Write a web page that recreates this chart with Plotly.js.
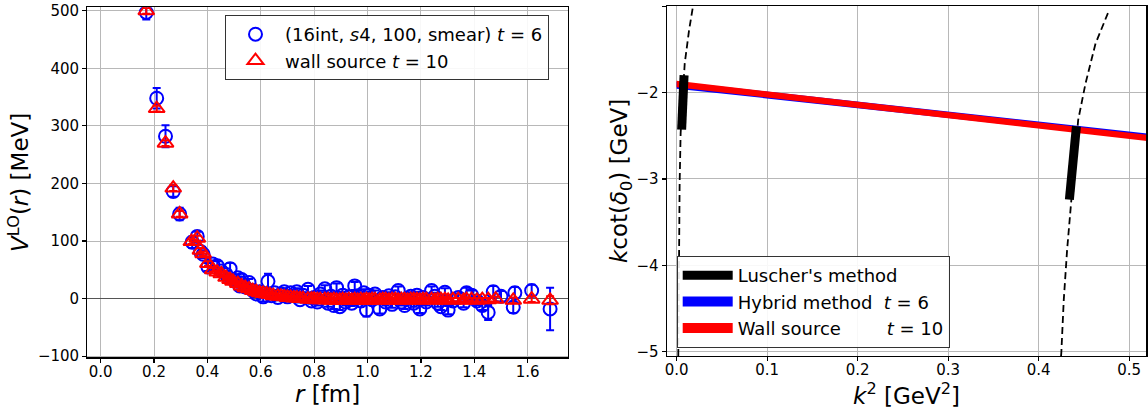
<!DOCTYPE html>
<html>
<head>
<meta charset="utf-8">
<script src="https://cdn.plot.ly/plotly-3.0.1.min.js"></script>
<style>html,body{margin:0;padding:0;background:#fff;} #chart{width:1148px;height:412px;}</style>
</head>
<body>
<div id="chart"></div>
<script>
// ---------- Left panel: V^LO(r) ----------
const rBlue = [0.171,0.210,0.243,0.272,0.296,0.343,0.362,0.374,0.384,0.402,0.420,0.437,0.452,0.470,0.485,0.500,0.514,0.521,0.528,0.542,0.556,0.570,0.583,0.596,0.609,0.627,0.640,0.652,0.664,0.676,0.688,0.700,0.712,0.724,0.735,0.747,0.758,0.777,0.790,0.800,0.812,0.823,0.840,0.852,0.863,0.874,0.884,0.896,0.907,0.918,0.930,0.941,0.952,0.963,0.975,0.986,0.996,1.006,1.017,1.028,1.046,1.057,1.068,1.080,1.092,1.104,1.115,1.127,1.139,1.150,1.162,1.173,1.185,1.196,1.208,1.220,1.240,1.252,1.263,1.275,1.290,1.302,1.320,1.340,1.360,1.371,1.390,1.410,1.430,1.452,1.471,1.500,1.546,1.552,1.615,1.684];
const vBlue = [497,348,282,186,147,98,108,82,77,55,60,57,48,42,52,32,36,22,33,20,28,14,8,12,3,30,5,10,2,8,12,3,10,5,12,-2,6,16,-4,2,-6,8,17,-8,4,-12,19,-14,6,-6,3,-8,22,5,-4,10,-20,6,-2,8,-18,2,-6,5,-10,3,14,-6,-12,0,4,-8,6,-18,2,-6,14,4,-8,-14,11,-20,-4,2,-8,10,6,-4,-12,-24,12,4,-15,10,14,-18];
const eBlue = [12,18,19,9,11,10,8,6,7,7,6,8,6,6,10,6,6,6,5,6,6,5,5,6,8,13,6,5,5,6,6,5,5,6,6,5,5,6,5,5,6,6,6,6,5,6,7,6,5,6,5,5,7,6,6,6,11,6,6,6,8,6,6,6,6,6,7,6,6,6,6,6,6,7,6,6,7,6,6,6,7,7,6,7,7,9,8,7,8,13,10,9,10,10,10,37];

const rRed = [0.171,0.210,0.243,0.272,0.296,0.340,0.362,0.374,0.384,0.402,0.420,0.437,0.452,0.470,0.485,0.496,0.514,0.528,0.542,0.556,0.570,0.583,0.596,0.609,0.622,0.634,0.647,0.664,0.676,0.688,0.700,0.712,0.724,0.735,0.747,0.758,0.777,0.790,0.800,0.812,0.823,0.840,0.852,0.863,0.874,0.884,0.896,0.907,0.918,0.930,0.941,0.952,0.963,0.975,0.986,0.996,1.006,1.017,1.028,1.046,1.057,1.068,1.080,1.092,1.104,1.115,1.127,1.139,1.150,1.162,1.173,1.185,1.196,1.208,1.220,1.240,1.252,1.263,1.275,1.290,1.302,1.320,1.340,1.360,1.371,1.390,1.410,1.430,1.452,1.480,1.546,1.615,1.684];
const vRed = [500,330,270,192,147,99,105,84,78,61,50,46,43,37,33,30,26,22,19,17,14,12,10,9,8,7,5,4,4,3,2,2,1,1,0,0,-1,-1,-1,-2,-2,-2,-2,-3,-2,-3,-3,-2,-3,-2,-3,-2,-3,-2,-3,-2,-3,-2,-2,-3,-2,-2,-3,-2,-2,-3,-2,-2,-3,-2,-2,-2,-3,-2,-2,-2,-3,-2,-2,-2,-3,-2,-2,-3,-2,-2,-3,-2,-2,-1,-3,-1,-3];
const eRed = [5,5,5,5,5,4,4,4,4,4,3,3,3,3,3,3,3,3,3,3,3,3,3,3,3,3,3,3,3,3,3,3,3,3,3,3,3,3,3,3,3,3,3,3,3,3,3,3,3,3,3,3,3,3,3,3,3,3,3,3,3,3,3,3,3,3,3,3,3,3,3,3,3,3,3,3,3,3,3,3,3,3,3,3,3,3,3,3,3,4,5,5,7];

const leftXTicks = [0.0,0.2,0.4,0.6,0.8,1.0,1.2,1.4,1.6];
const leftYTicks = [-100,0,100,200,300,400,500];

// ---------- Right panel: k cot(delta0) ----------
const luscherK2a = [0.0018,0.0022,0.0026,0.0033,0.0044,0.0063,0.0089,0.0137,0.0181];
const luscherKcotA = [-5.05,-4.21,-3.63,-3.05,-2.47,-2.09,-1.665,-1.28,-1.0];
const luscherK2b = [0.4248,0.4251,0.4278,0.4315,0.4362,0.4437,0.4518,0.4629,0.4770];
const luscherKcotB = [-5.05,-5.01,-4.40,-3.82,-3.24,-2.32,-1.896,-1.434,-1.07];
const luscherSegK2a = [0.0055,0.0082];
const luscherSegKcotA = [-2.43,-1.80];
const luscherSegK2b = [0.4340,0.4418];
const luscherSegKcotB = [-3.24,-2.39];
const bandK2 = [0.0,0.52];
const hybridLow = [-1.955,-2.545];
const hybridHigh = [-1.875,-2.475];
const wallLow = [-1.94,-2.56];
const wallHigh = [-1.865,-2.49];
const rightXTicks = [0.0,0.1,0.2,0.3,0.4,0.5];
const rightYTicks = [-5,-4,-3,-2,-1];

const FONT = 'DejaVu Sans, Verdana, sans-serif';
const W = 1148, H = 412;

function band(xs, lo, hi) {
  return {x: xs.concat(xs.slice().reverse()), y: lo.concat(hi.slice().reverse())};
}
const hb = band(bandK2, hybridLow, hybridHigh);
const wb = band(bandK2, wallLow, wallHigh);

const traces = [
  {type:'scatter', mode:'markers', x:rBlue, y:vBlue, name:'(16int, <i>s</i>4, 100, smear) <i>t</i> = 6',
   error_y:{type:'data', array:eBlue, visible:true, color:'#0000ff', thickness:2, width:4},
   marker:{symbol:'circle-open', size:13, color:'#0000ff', line:{width:2, color:'#0000ff'}},
   xaxis:'x', yaxis:'y', legend:'legend'},
  {type:'scatter', mode:'markers', x:rRed, y:vRed, name:'wall source <i>t</i> = 10',
   error_y:{type:'data', array:eRed, visible:true, color:'#ff0000', thickness:2, width:4},
   marker:{symbol:'triangle-up-open', size:14, color:'#ff0000', line:{width:2, color:'#ff0000'}},
   xaxis:'x', yaxis:'y', legend:'legend'},

  {type:'scatter', mode:'lines', x:luscherK2a, y:luscherKcotA, showlegend:false, hoverinfo:'skip',
   line:{color:'#000', width:1.8, dash:'7px,4px'}, xaxis:'x2', yaxis:'y2'},
  {type:'scatter', mode:'lines', x:luscherK2b, y:luscherKcotB, showlegend:false, hoverinfo:'skip',
   line:{color:'#000', width:1.8, dash:'7px,4px'}, xaxis:'x2', yaxis:'y2'},
  {type:'scatter', mode:'lines', x:hb.x, y:hb.y, fill:'toself', fillcolor:'#0000ff',
   line:{width:0, color:'#0000ff'}, showlegend:false,
   xaxis:'x2', yaxis:'y2'},
  {type:'scatter', mode:'lines', x:wb.x, y:wb.y, fill:'toself', fillcolor:'#ff0000',
   line:{width:0, color:'#ff0000'}, showlegend:false,
   xaxis:'x2', yaxis:'y2'},
  {type:'scatter', mode:'lines', x:luscherSegK2a, y:luscherSegKcotA, name:"Luscher's method",
   line:{color:'#000', width:9}, xaxis:'x2', yaxis:'y2', legend:'legend2', legendrank:1},
  {type:'scatter', mode:'lines', x:luscherSegK2b, y:luscherSegKcotB, showlegend:false,
   line:{color:'#000', width:9}, xaxis:'x2', yaxis:'y2', legend:'legend2'},
  // legend entries for the bands
  {type:'scatter', mode:'lines', x:[null], y:[null], name:'Hybrid method\u00a0\u00a0<i>t</i> = 6',
   line:{color:'#0000ff', width:12}, xaxis:'x2', yaxis:'y2', legend:'legend2', legendrank:2},
  {type:'scatter', mode:'lines', x:[null], y:[null], name:'Wall source\u00a0\u00a0\u00a0\u00a0\u00a0\u00a0\u00a0\u00a0<i>t</i> = 10',
   line:{color:'#ff0000', width:12}, xaxis:'x2', yaxis:'y2', legend:'legend2', legendrank:3}
];

const axisCommon = {
  showline:true, mirror:true, linecolor:'#000', linewidth:1.2,
  ticks:'outside', ticklen:4, tickwidth:1.2, tickcolor:'#000',
  showgrid:true, gridcolor:'#b8b8b8', gridwidth:1,
  tickfont:{family:FONT, size:15, color:'#000'},
  zeroline:false, automargin:false
};
const titleFont = {family:FONT, size:23, color:'#000'};

const layout = {
  width:W, height:H,
  margin:{l:0, r:0, t:0, b:0},
  paper_bgcolor:'#fff', plot_bgcolor:'#fff',
  font:{family:FONT, color:'#000'},
  xaxis: Object.assign({}, axisCommon, {
    domain:[87.3/W, 567.7/W], range:[-0.05, 1.75], anchor:'y',
    tickvals:leftXTicks, tickformat:'.1f', ticklabelstandoff:-4,
    title:{text:'<i>r</i> [fm]', font:titleFont, standoff:0}
  }),
  yaxis: Object.assign({}, axisCommon, {
    domain:[1-357.3/H, 1-7.3/H], range:[-102, 506], anchor:'x',
    tickvals:leftYTicks,
    zeroline:true, zerolinecolor:'#555', zerolinewidth:1.6,
    title:{text:'<i>V</i><sup>LO</sup>(<i>r</i>) [MeV]', font:titleFont, standoff:2}
  }),
  xaxis2: Object.assign({}, axisCommon, {
    domain:[666.7/W, 1146.3/W], range:[-0.011, 0.519], anchor:'y2',
    tickvals:rightXTicks, tickformat:'.1f', ticklabelstandoff:-4,
    title:{text:'<i>k</i><sup>2</sup> [GeV<sup>2</sup>]', font:titleFont, standoff:0}
  }),
  yaxis2: Object.assign({}, axisCommon, {
    domain:[1-356/H, 1-5.7/H], range:[-5.05, -0.995], anchor:'x2',
    tickvals:rightYTicks,
    title:{text:'<i>k</i>cot(<i>δ</i><sub>0</sub>) [GeV]', font:titleFont, standoff:2}
  }),
  legend:{
    x:225/W, y:1-15/H, xanchor:'left', yanchor:'top',
    font:{family:FONT, size:18, color:'#000'},
    bgcolor:'rgba(255,255,255,0.9)', bordercolor:'#333', borderwidth:1,
    itemwidth:49, tracegroupgap:0
  },
  legend2:{
    x:676.7/W, y:1-256/H, xanchor:'left', yanchor:'top',
    font:{family:FONT, size:18, color:'#000'},
    bgcolor:'rgba(255,255,255,0.9)', bordercolor:'#333', borderwidth:1,
    itemwidth:50, tracegroupgap:0, traceorder:'normal'
  },
  showlegend:true
};

Plotly.newPlot('chart', traces, layout, {staticPlot:true, displayModeBar:false});
</script>
</body>
</html>
